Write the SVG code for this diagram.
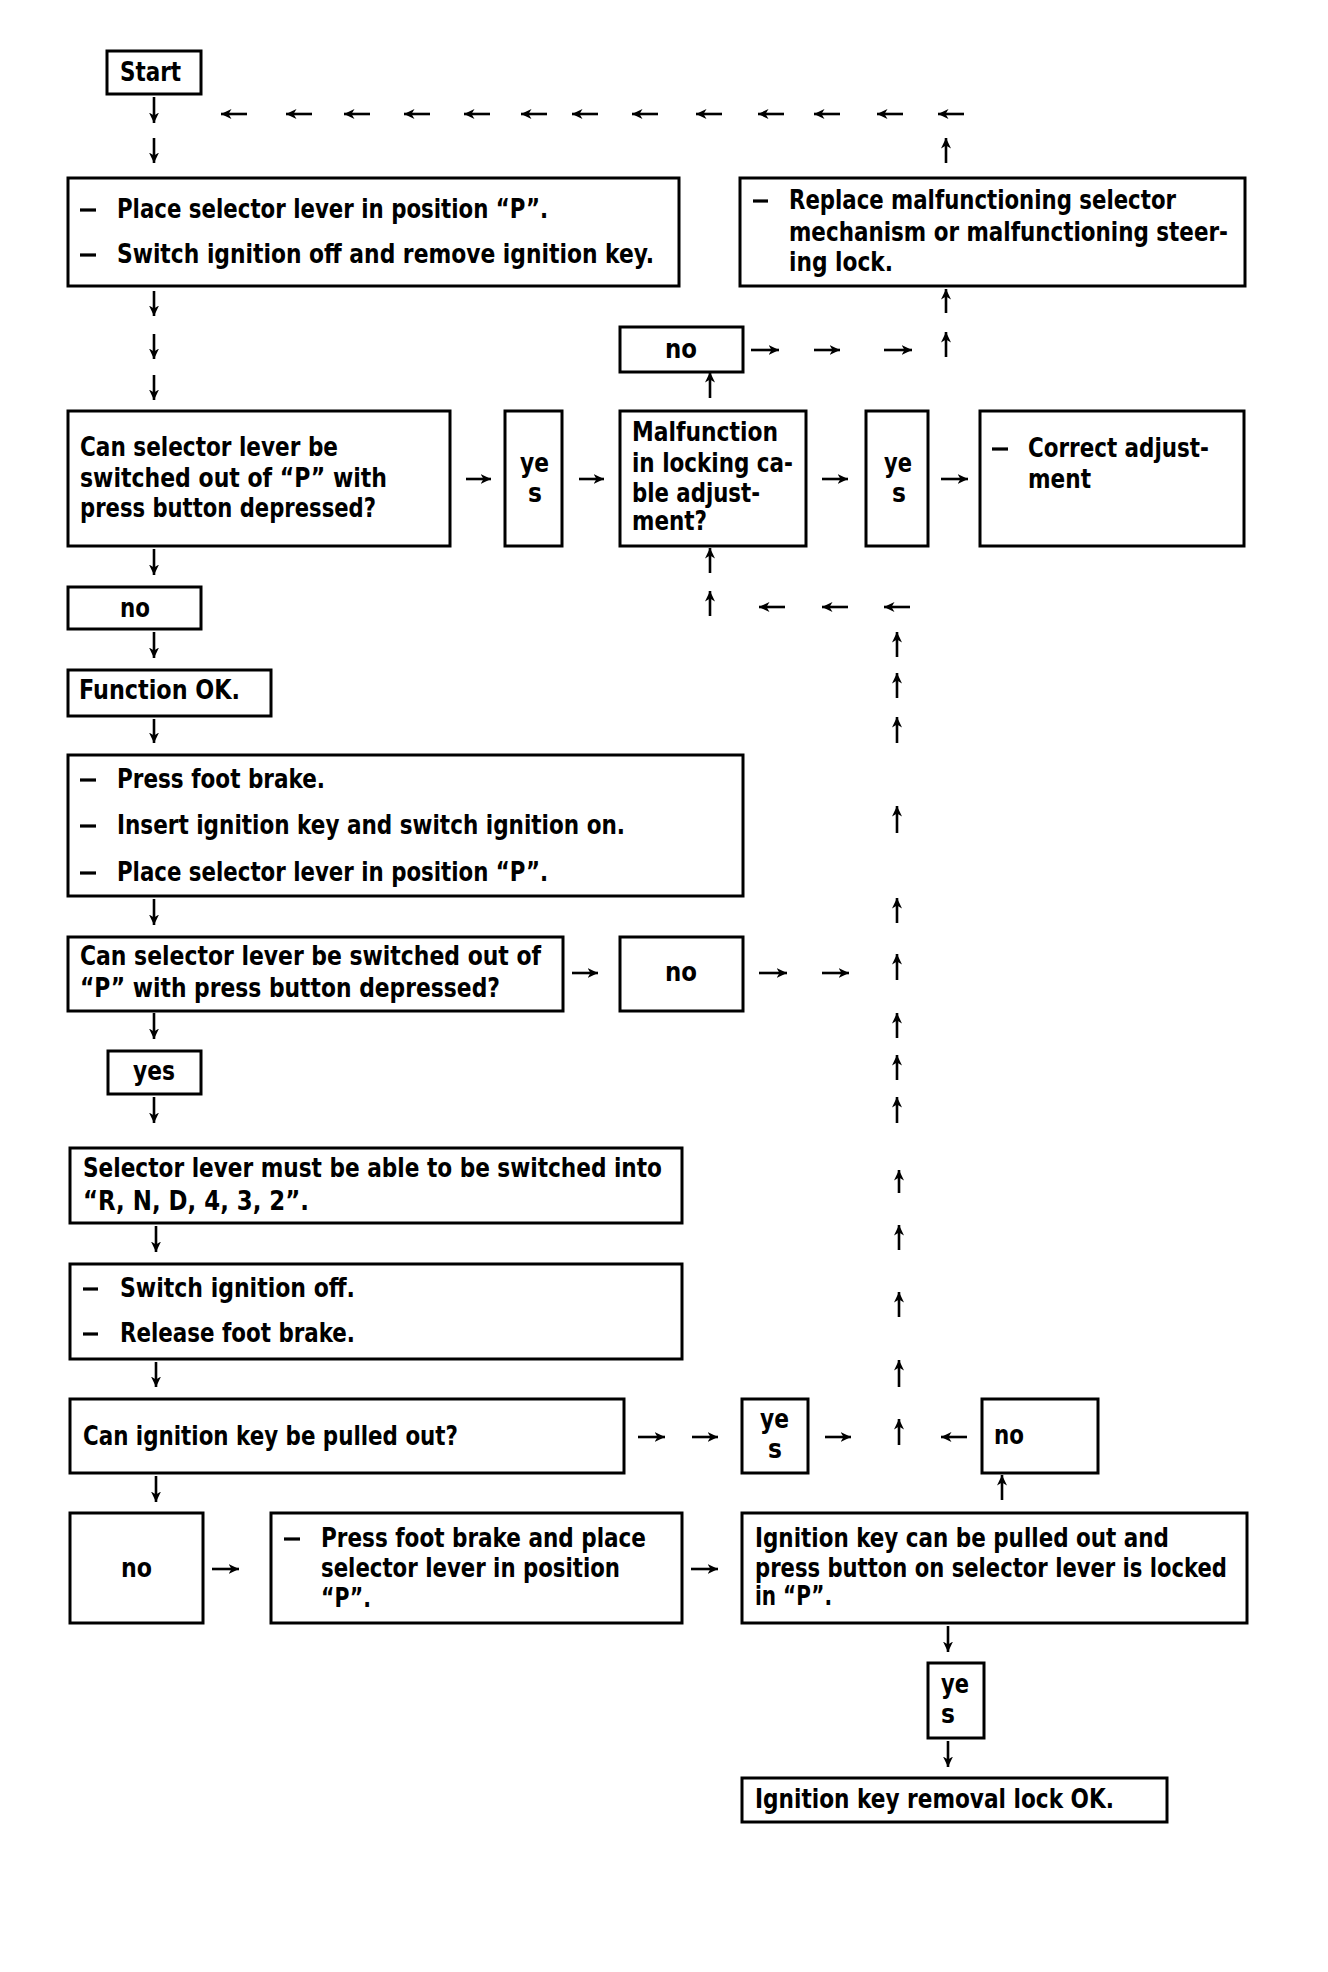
<svg xmlns="http://www.w3.org/2000/svg" width="1328" height="1972" viewBox="0 0 1328 1972">
<defs>
<style>
.box{fill:#fff;stroke:#000;stroke-width:3}
.t{font-family:"DejaVu Sans Condensed","DejaVu Sans","Liberation Sans",sans-serif;font-weight:bold;font-size:26px;fill:#000}
.d{stroke:#000;stroke-width:3.2}
.c line{stroke:#000;stroke-width:2.6;marker-end:url(#ah)}
</style>
<marker id="ah" markerUnits="userSpaceOnUse" markerWidth="13" markerHeight="13" refX="10.5" refY="5.5" orient="auto">
<path d="M0,0.5 L10.5,5.5 L0,10.5 L3,5.5 z" fill="#000"/>
</marker>
</defs>
<rect width="1328" height="1972" fill="#fff"/>

<g id="start"><rect class="box" x="107" y="51" width="94" height="43"/><text class="t" x="120" y="81" textLength="61" lengthAdjust="spacingAndGlyphs">Start</text></g>

<g id="step1"><rect class="box" x="68" y="178" width="611" height="108"/>
<line class="d" x1="80" y1="210" x2="96" y2="210"/><text class="t" x="117" y="218" textLength="431" lengthAdjust="spacingAndGlyphs">Place selector lever in position “P”.</text>
<line class="d" x1="80" y1="255" x2="96" y2="255"/><text class="t" x="117" y="263" textLength="537" lengthAdjust="spacingAndGlyphs">Switch ignition off and remove ignition key.</text></g>

<g id="replace"><rect class="box" x="740" y="178" width="505" height="108"/>
<line class="d" x1="753" y1="201" x2="768" y2="201"/><text class="t" x="789" y="209" textLength="387" lengthAdjust="spacingAndGlyphs">Replace malfunctioning selector</text>
<text class="t" x="789" y="241" textLength="439" lengthAdjust="spacingAndGlyphs">mechanism or malfunctioning steer-</text>
<text class="t" x="789" y="271" textLength="104" lengthAdjust="spacingAndGlyphs">ing lock.</text></g>

<g id="no-top"><rect class="box" x="620" y="327" width="123" height="45"/><text class="t" x="665" y="358" textLength="32" lengthAdjust="spacingAndGlyphs">no</text></g>

<g id="q1"><rect class="box" x="68" y="411" width="382" height="135"/>
<text class="t" x="80" y="456" textLength="258" lengthAdjust="spacingAndGlyphs">Can selector lever be</text>
<text class="t" x="80" y="487" textLength="307" lengthAdjust="spacingAndGlyphs">switched out of “P” with</text>
<text class="t" x="80" y="517" textLength="296" lengthAdjust="spacingAndGlyphs">press button depressed?</text></g>

<g id="yes1"><rect class="box" x="505" y="411" width="57" height="135"/>
<text class="t" x="520" y="472" textLength="29" lengthAdjust="spacingAndGlyphs">ye</text><text class="t" x="528" y="502">s</text></g>

<g id="malfunction"><rect class="box" x="620" y="411" width="186" height="135"/>
<text class="t" x="632" y="441" textLength="146" lengthAdjust="spacingAndGlyphs">Malfunction</text>
<text class="t" x="632" y="472" textLength="161" lengthAdjust="spacingAndGlyphs">in locking ca-</text>
<text class="t" x="632" y="502" textLength="128" lengthAdjust="spacingAndGlyphs">ble adjust-</text>
<text class="t" x="632" y="530" textLength="75" lengthAdjust="spacingAndGlyphs">ment?</text></g>

<g id="yes2"><rect class="box" x="866" y="411" width="62" height="135"/>
<text class="t" x="884" y="472" textLength="28" lengthAdjust="spacingAndGlyphs">ye</text><text class="t" x="892" y="502">s</text></g>

<g id="correct"><rect class="box" x="980" y="411" width="264" height="135"/>
<line class="d" x1="992" y1="449" x2="1008" y2="449"/><text class="t" x="1028" y="457" textLength="181" lengthAdjust="spacingAndGlyphs">Correct adjust-</text>
<text class="t" x="1028" y="488" textLength="63" lengthAdjust="spacingAndGlyphs">ment</text></g>

<g id="no2"><rect class="box" x="68" y="587" width="133" height="42"/><text class="t" x="120" y="617" textLength="30" lengthAdjust="spacingAndGlyphs">no</text></g>

<g id="function-ok"><rect class="box" x="68" y="670" width="203" height="46"/><text class="t" x="79" y="699" textLength="161" lengthAdjust="spacingAndGlyphs">Function OK.</text></g>

<g id="step2"><rect class="box" x="68" y="755" width="675" height="141"/>
<line class="d" x1="80" y1="780" x2="96" y2="780"/><text class="t" x="117" y="788" textLength="208" lengthAdjust="spacingAndGlyphs">Press foot brake.</text>
<line class="d" x1="80" y1="826" x2="96" y2="826"/><text class="t" x="117" y="834" textLength="508" lengthAdjust="spacingAndGlyphs">Insert ignition key and switch ignition on.</text>
<line class="d" x1="80" y1="873" x2="96" y2="873"/><text class="t" x="117" y="881" textLength="431" lengthAdjust="spacingAndGlyphs">Place selector lever in position “P”.</text></g>

<g id="q2"><rect class="box" x="68" y="937" width="495" height="74"/>
<text class="t" x="80" y="965" textLength="461" lengthAdjust="spacingAndGlyphs">Can selector lever be switched out of</text>
<text class="t" x="80" y="997" textLength="420" lengthAdjust="spacingAndGlyphs">“P” with press button depressed?</text></g>

<g id="no3"><rect class="box" x="620" y="937" width="123" height="74"/><text class="t" x="665" y="981" textLength="32" lengthAdjust="spacingAndGlyphs">no</text></g>

<g id="yes3"><rect class="box" x="108" y="1051" width="93" height="43"/><text class="t" x="133" y="1080" textLength="42" lengthAdjust="spacingAndGlyphs">yes</text></g>

<g id="selector"><rect class="box" x="70" y="1148" width="612" height="75"/>
<text class="t" x="83" y="1177" textLength="579" lengthAdjust="spacingAndGlyphs">Selector lever must be able to be switched into</text>
<text class="t" x="83" y="1210" textLength="226" lengthAdjust="spacingAndGlyphs">“R, N, D, 4, 3, 2”.</text></g>

<g id="step3"><rect class="box" x="70" y="1264" width="612" height="95"/>
<line class="d" x1="83" y1="1289" x2="98" y2="1289"/><text class="t" x="120" y="1297" textLength="235" lengthAdjust="spacingAndGlyphs">Switch ignition off.</text>
<line class="d" x1="83" y1="1334" x2="98" y2="1334"/><text class="t" x="120" y="1342" textLength="235" lengthAdjust="spacingAndGlyphs">Release foot brake.</text></g>

<g id="q3"><rect class="box" x="70" y="1399" width="554" height="74"/>
<text class="t" x="83" y="1445" textLength="375" lengthAdjust="spacingAndGlyphs">Can ignition key be pulled out?</text></g>

<g id="yes4"><rect class="box" x="742" y="1399" width="66" height="74"/>
<text class="t" x="760" y="1428" textLength="29" lengthAdjust="spacingAndGlyphs">ye</text><text class="t" x="768" y="1458">s</text></g>

<g id="no4"><rect class="box" x="982" y="1399" width="116" height="74"/><text class="t" x="994" y="1444" textLength="30" lengthAdjust="spacingAndGlyphs">no</text></g>

<g id="no5"><rect class="box" x="70" y="1513" width="133" height="110"/><text class="t" x="121" y="1577" textLength="31" lengthAdjust="spacingAndGlyphs">no</text></g>

<g id="step4"><rect class="box" x="271" y="1513" width="411" height="110"/>
<line class="d" x1="284" y1="1539" x2="300" y2="1539"/><text class="t" x="321" y="1547" textLength="325" lengthAdjust="spacingAndGlyphs">Press foot brake and place</text>
<text class="t" x="321" y="1577" textLength="299" lengthAdjust="spacingAndGlyphs">selector lever in position</text>
<text class="t" x="321" y="1607" textLength="50" lengthAdjust="spacingAndGlyphs">“P”.</text></g>

<g id="locked"><rect class="box" x="742" y="1513" width="505" height="110"/>
<text class="t" x="755" y="1547" textLength="414" lengthAdjust="spacingAndGlyphs">Ignition key can be pulled out and</text>
<text class="t" x="755" y="1577" textLength="472" lengthAdjust="spacingAndGlyphs">press button on selector lever is locked</text>
<text class="t" x="755" y="1605" textLength="77" lengthAdjust="spacingAndGlyphs">in “P”.</text></g>

<g id="yes5"><rect class="box" x="928" y="1663" width="56" height="75"/>
<text class="t" x="941" y="1693" textLength="28" lengthAdjust="spacingAndGlyphs">ye</text><text class="t" x="941" y="1723">s</text></g>

<g id="final"><rect class="box" x="742" y="1778" width="425" height="44"/>
<text class="t" x="755" y="1808" textLength="359" lengthAdjust="spacingAndGlyphs">Ignition key removal lock OK.</text></g>

<g id="connectors" class="c">
<line x1="154" y1="97" x2="154" y2="123"/>
<line x1="154" y1="138" x2="154" y2="163"/>
<line x1="154" y1="291" x2="154" y2="316"/>
<line x1="154" y1="334" x2="154" y2="359"/>
<line x1="154" y1="375" x2="154" y2="400"/>
<line x1="154" y1="549" x2="154" y2="575"/>
<line x1="154" y1="632" x2="154" y2="658"/>
<line x1="154" y1="719" x2="154" y2="743"/>
<line x1="154" y1="899" x2="154" y2="925"/>
<line x1="154" y1="1013" x2="154" y2="1039"/>
<line x1="154" y1="1097" x2="154" y2="1123"/>
<line x1="156" y1="1226" x2="156" y2="1252"/>
<line x1="156" y1="1362" x2="156" y2="1387"/>
<line x1="156" y1="1476" x2="156" y2="1502"/>
<line x1="948" y1="1626" x2="948" y2="1652"/>
<line x1="948" y1="1741" x2="948" y2="1767"/>
<line x1="247" y1="114" x2="221" y2="114"/>
<line x1="312" y1="114" x2="286" y2="114"/>
<line x1="370" y1="114" x2="344" y2="114"/>
<line x1="430" y1="114" x2="404" y2="114"/>
<line x1="490" y1="114" x2="464" y2="114"/>
<line x1="547" y1="114" x2="521" y2="114"/>
<line x1="598" y1="114" x2="572" y2="114"/>
<line x1="658" y1="114" x2="632" y2="114"/>
<line x1="722" y1="114" x2="696" y2="114"/>
<line x1="784" y1="114" x2="758" y2="114"/>
<line x1="840" y1="114" x2="814" y2="114"/>
<line x1="903" y1="114" x2="877" y2="114"/>
<line x1="964" y1="114" x2="938" y2="114"/>
<line x1="946" y1="163" x2="946" y2="138"/>
<line x1="946" y1="313" x2="946" y2="289"/>
<line x1="946" y1="357" x2="946" y2="332"/>
<line x1="751" y1="350" x2="779" y2="350"/>
<line x1="814" y1="350" x2="840" y2="350"/>
<line x1="884" y1="350" x2="912" y2="350"/>
<line x1="710" y1="398" x2="710" y2="372"/>
<line x1="466" y1="479" x2="491" y2="479"/>
<line x1="579" y1="479" x2="604" y2="479"/>
<line x1="822" y1="479" x2="848" y2="479"/>
<line x1="941" y1="479" x2="968" y2="479"/>
<line x1="710" y1="573" x2="710" y2="548"/>
<line x1="710" y1="616" x2="710" y2="591"/>
<line x1="785" y1="607" x2="759" y2="607"/>
<line x1="848" y1="607" x2="822" y2="607"/>
<line x1="910" y1="607" x2="884" y2="607"/>
<line x1="897" y1="657" x2="897" y2="632"/>
<line x1="897" y1="698" x2="897" y2="673"/>
<line x1="897" y1="743" x2="897" y2="717"/>
<line x1="897" y1="833" x2="897" y2="806"/>
<line x1="897" y1="923" x2="897" y2="898"/>
<line x1="897" y1="980" x2="897" y2="954"/>
<line x1="897" y1="1038" x2="897" y2="1013"/>
<line x1="897" y1="1080" x2="897" y2="1055"/>
<line x1="897" y1="1123" x2="897" y2="1097"/>
<line x1="899" y1="1193" x2="899" y2="1170"/>
<line x1="899" y1="1250" x2="899" y2="1225"/>
<line x1="899" y1="1317" x2="899" y2="1292"/>
<line x1="899" y1="1387" x2="899" y2="1360"/>
<line x1="899" y1="1445" x2="899" y2="1419"/>
<line x1="572" y1="973" x2="598" y2="973"/>
<line x1="759" y1="973" x2="787" y2="973"/>
<line x1="822" y1="973" x2="849" y2="973"/>
<line x1="638" y1="1437" x2="665" y2="1437"/>
<line x1="692" y1="1437" x2="718" y2="1437"/>
<line x1="825" y1="1437" x2="851" y2="1437"/>
<line x1="967" y1="1437" x2="941" y2="1437"/>
<line x1="1002" y1="1500" x2="1002" y2="1475"/>
<line x1="212" y1="1569" x2="239" y2="1569"/>
<line x1="691" y1="1569" x2="718" y2="1569"/>
</g>
</svg>
